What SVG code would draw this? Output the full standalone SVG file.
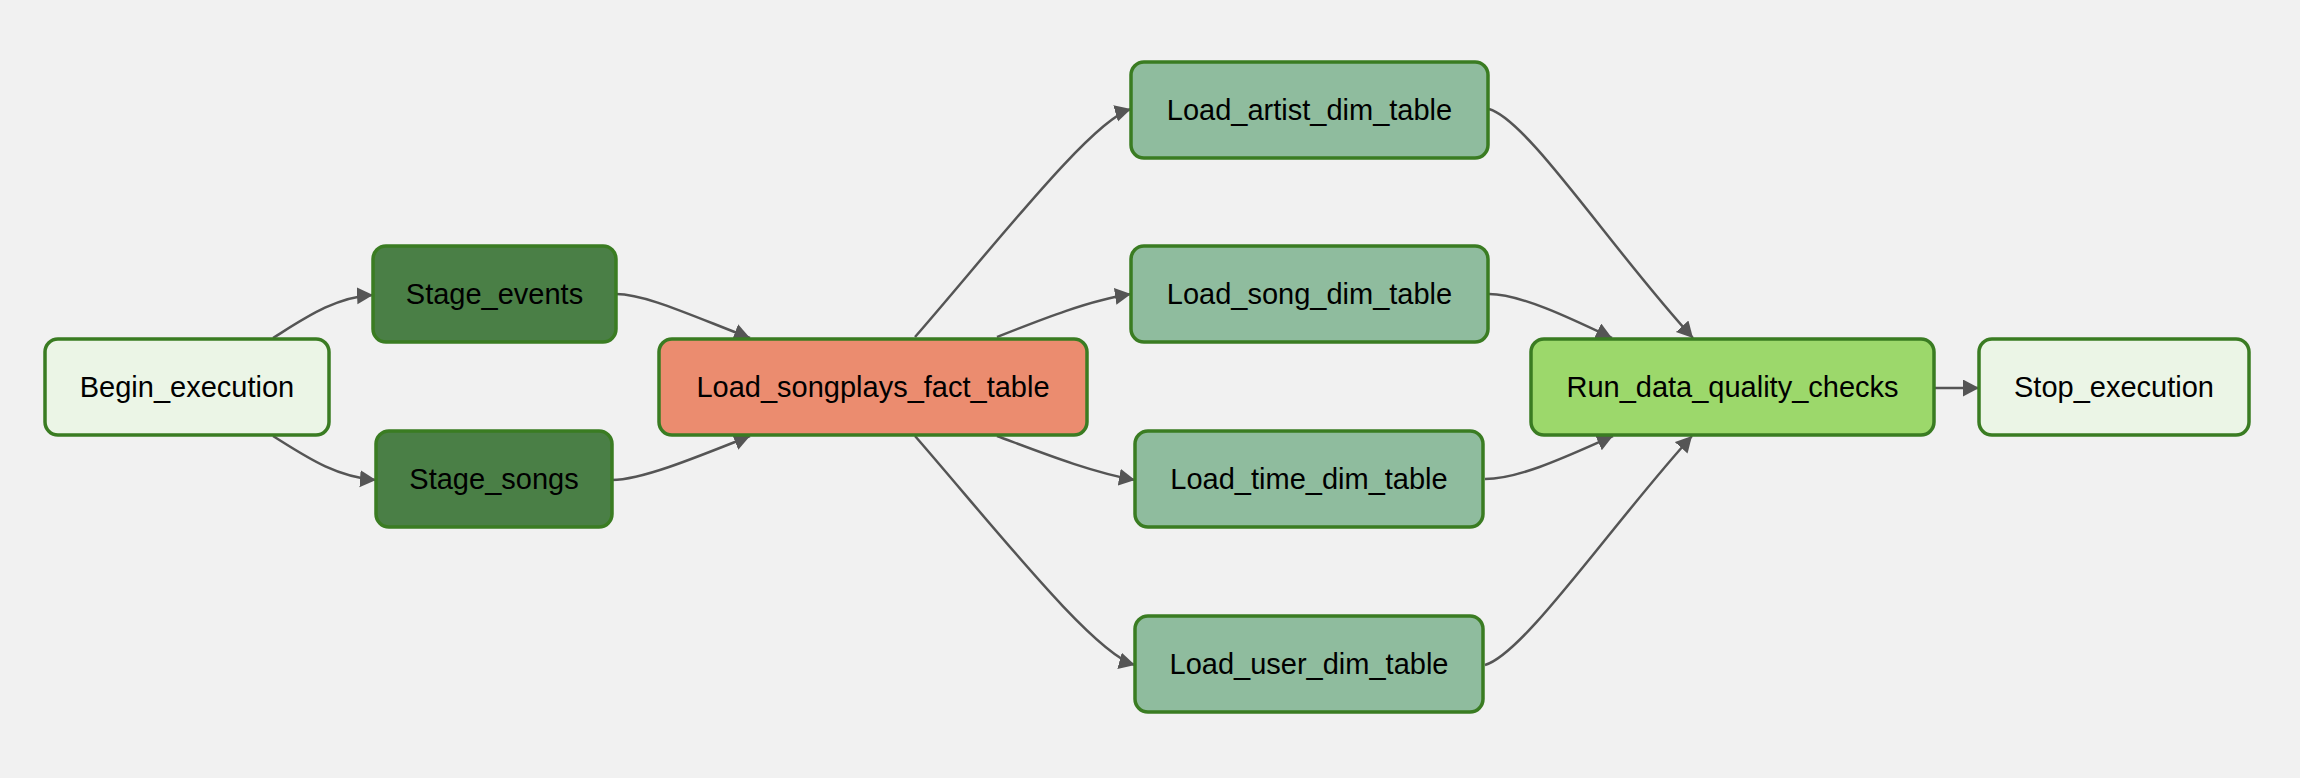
<svg xmlns="http://www.w3.org/2000/svg" width="2300" height="778" viewBox="0 0 2300 778">
<defs>
<marker id="arr" markerUnits="userSpaceOnUse" markerWidth="18" markerHeight="18" refX="16" refY="8.5" orient="auto">
<path d="M0,0 L16,8.5 L0,17 z" fill="#555"/>
</marker>
<style>
.node rect{stroke:#3a7c22;stroke-width:3.5}
.node text{font-family:"Liberation Sans",Arial,Helvetica,sans-serif;font-size:29px;fill:#000;text-anchor:middle}
.dummy rect{fill:#ebf5e6}
.stage rect{fill:#4a7f46}
.fact rect{fill:#eb8c6f}
.dim rect{fill:#8fbc9e}
.dq rect{fill:#9cd86b}
.edges path{fill:none;stroke:#555;stroke-width:2.5;marker-end:url(#arr)}
</style>
</defs>
<rect width="2300" height="778" fill="#f1f1f1"/>
<g id="edges" class="edges">
<path d="M273,338 C305,318 335,297 373,295"/>
<path d="M273,436 C305,456 335,477 376,480"/>
<path d="M616,294 C645,294 690,315 750,338"/>
<path d="M612,480 C640,480 690,460 750,436"/>
<path d="M915,337 C995,245 1092,120 1131,109"/>
<path d="M997,337 C1040,320 1090,300 1131,294"/>
<path d="M997,436 C1040,452 1090,472 1135,480"/>
<path d="M915,436 C995,528 1094,654 1135,665"/>
<path d="M1489,109 C1528,120 1612,250 1693,338"/>
<path d="M1489,294 C1520,294 1570,318 1612,338"/>
<path d="M1485,479 C1520,479 1570,455 1613,436"/>
<path d="M1485,665 C1524,654 1612,524 1692,436"/>
<path d="M1934,388 L1979,388"/>
</g>
<g id="Begin_execution" class="node dummy"><rect x="45" y="339" width="284" height="96" rx="13"/><text x="187" y="397">Begin_execution</text></g>
<g id="Stage_events" class="node stage"><rect x="373" y="246" width="243" height="96" rx="13"/><text x="494.5" y="304">Stage_events</text></g>
<g id="Stage_songs" class="node stage"><rect x="376" y="431" width="236" height="96" rx="13"/><text x="494" y="489">Stage_songs</text></g>
<g id="Load_songplays_fact_table" class="node fact"><rect x="659" y="339" width="428" height="96" rx="13"/><text x="873" y="397">Load_songplays_fact_table</text></g>
<g id="Load_artist_dim_table" class="node dim"><rect x="1131" y="62" width="357" height="96" rx="13"/><text x="1309.5" y="120">Load_artist_dim_table</text></g>
<g id="Load_song_dim_table" class="node dim"><rect x="1131" y="246" width="357" height="96" rx="13"/><text x="1309.5" y="304">Load_song_dim_table</text></g>
<g id="Load_time_dim_table" class="node dim"><rect x="1135" y="431" width="348" height="96" rx="13"/><text x="1309" y="489">Load_time_dim_table</text></g>
<g id="Load_user_dim_table" class="node dim"><rect x="1135" y="616" width="348" height="96" rx="13"/><text x="1309" y="674">Load_user_dim_table</text></g>
<g id="Run_data_quality_checks" class="node dq"><rect x="1531" y="339" width="403" height="96" rx="13"/><text x="1732.5" y="397">Run_data_quality_checks</text></g>
<g id="Stop_execution" class="node dummy"><rect x="1979" y="339" width="270" height="96" rx="13"/><text x="2114" y="397">Stop_execution</text></g>
</svg>
